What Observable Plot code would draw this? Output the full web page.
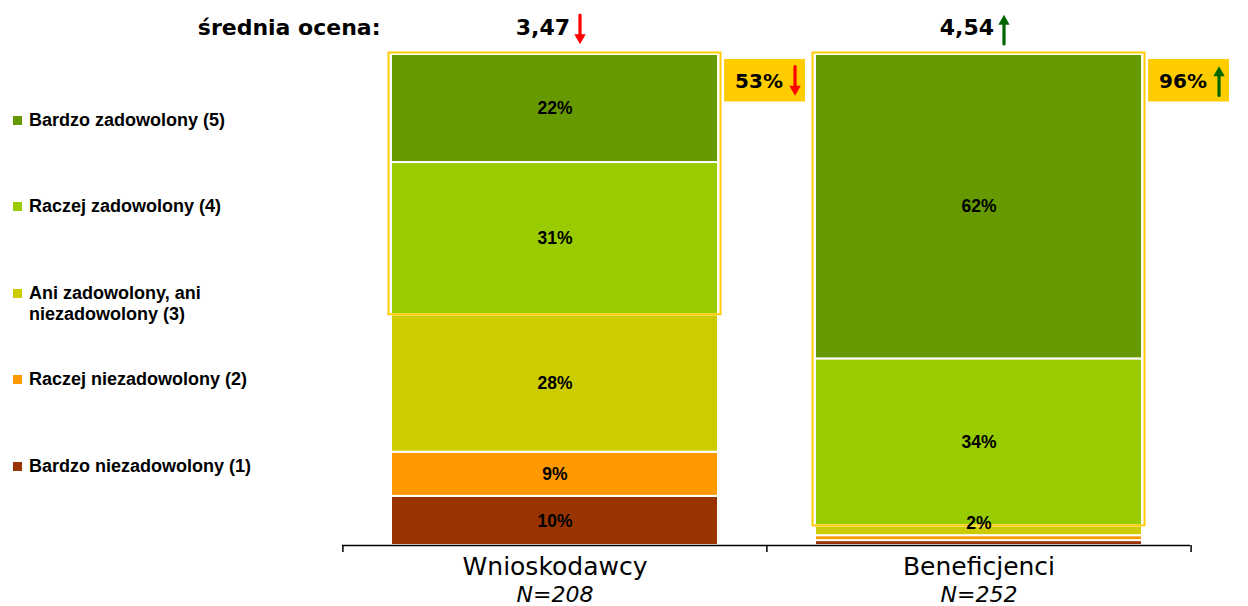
<!DOCTYPE html>
<html>
<head>
<meta charset="utf-8">
<script src="https://cdn.jsdelivr.net/npm/d3@7"></script>
<script src="https://cdn.jsdelivr.net/npm/@observablehq/plot@0.6"></script>
<style>
  body { margin: 0; background: #fff; }
  #wrap { position: relative; width: 1248px; height: 606px; overflow: hidden; background: #fff; }
  #chart { position: absolute; left: 0; top: 0; }
  .lg-item { position: absolute; left: 29px; font: bold 18px "Liberation Sans", Arial, sans-serif; line-height: 21px; color: #000; white-space: pre-line; }
  .lg-sw { position: absolute; left: 13px; width: 9px; height: 9px; }
</style>
</head>
<body>
<div id="wrap"><div id="chart"></div><div id="legend"></div></div>
<script>
// ---- data ----
const groups = ["Wnioskodawcy", "Beneficjenci"];
const sampleSizes = ["N=208", "N=252"];
const levels = [
  "Bardzo niezadowolony (1)",
  "Raczej niezadowolony (2)",
  "Ani zadowolony, ani\nniezadowolony (3)",
  "Raczej zadowolony (4)",
  "Bardzo zadowolony (5)"
];
const levelColors = ["#993300", "#FF9900", "#CCCC00", "#99CC00", "#669900"];
const wnioskodawcy = [10, 9, 28, 31, 22];
const beneficjenci = [1, 1, 2, 34, 62];
const meanScores = ["3,47", "4,54"];
const meanTrend = ["down", "up"];
const top2Share = [53, 96];
const top2Trend = ["down", "up"];
const headerLabel = ["średnia ocena:"];

// ---- tables ----
const seriesByGroup = [wnioskodawcy, beneficjenci];
const rows = [];
groups.forEach((g, gi) => levels.forEach((l, li) => rows.push({group: g, level: l, value: seriesByGroup[gi][li]})));
const summary = groups.map((g, i) => ({
  group: g,
  n: sampleSizes[i],
  mean: meanScores[i],
  meanTrend: meanTrend[i],
  top2: top2Share[i],
  top2Trend: top2Trend[i],
  top2Base: d3.sum(seriesByGroup[i].slice(0, 3)),
  total: d3.sum(seriesByGroup[i])
}));

// ---- layout ----
const W = 1248, H = 606;
const mL = 342, mR = 58, mT = 54, mB = 61;
const pIn = 0.229, pOut = 0.114;
const plotW = W - mL - mR, plotH = H - mT - mB;
const step = plotW / (groups.length - pIn + 2 * pOut);
const bw = step * (1 - pIn);
const boxGap = 6, boxW = 81;
const boxCenter = bw / 2 + boxGap + boxW / 2;

const RED = "#FF0000", GREEN = "#006600";

function arrowMarks(data, field, dx, cy) {
  const half = 14.5, tip = 6.4;
  const down = data.filter(d => d[field] === "down");
  const up = data.filter(d => d[field] === "up");
  const common = {x: "group", frameAnchor: "top", dx};
  return [
    Plot.vector(down, {...common, dy: cy - half, length: 2 * half - 7, rotate: 180, anchor: "start", r: 0, stroke: RED, strokeWidth: 3.2}),
    Plot.dot(down, {...common, dy: cy + half - tip, symbol: "triangle", r: 4.2, rotate: 180, fill: RED, stroke: "none"}),
    Plot.vector(up, {...common, dy: cy + half, length: 2 * half - 7, rotate: 0, anchor: "start", r: 0, stroke: GREEN, strokeWidth: 3.2}),
    Plot.dot(up, {...common, dy: cy - half + tip, symbol: "triangle", r: 4.2, fill: GREEN, stroke: "none"})
  ];
}

const bold = {fontFamily: "DejaVu Sans", fontWeight: "bold", lineAnchor: "middle"};
const labelFont = {fontFamily: "Liberation Sans", fontWeight: "bold", fontSize: 17.5, fill: "black"};

const chart = Plot.plot({
  width: W, height: H,
  marginLeft: mL, marginRight: mR, marginTop: mT, marginBottom: mB,
  x: {type: "band", domain: groups, paddingInner: pIn, paddingOuter: pOut, axis: null},
  y: {domain: [0, 100], axis: null},
  color: {domain: levels, range: levelColors},
  style: {fontFamily: "DejaVu Sans", background: "white", color: "black"},
  marks: [
    Plot.barY(rows, {x: "group", y: "value", fill: "level", stroke: "white", strokeWidth: 2}),
    Plot.barY(summary, {x: "group", y1: "top2Base", y2: "total", fill: "none", stroke: "#FFCC00", strokeWidth: 2,
      insetLeft: -2.5, insetRight: -2.5, insetTop: -1.5}),
    Plot.text(rows, Plot.stackY({x: "group", y: "value", text: d => d.value >= 5 ? d.value + "%" : null, ...labelFont})),
    Plot.text(rows, Plot.stackY({x: "group", y: "value", text: d => d.value >= 2 && d.value < 5 ? d.value + "%" : null, dy: -7, ...labelFont})),
    Plot.ruleY([0], {stroke: "black", strokeWidth: 1.5}),
    Plot.ruleX(summary, {x: "group", dx: -step / 2, insetTop: plotH, insetBottom: -7, stroke: "black", strokeWidth: 1.5}),
    Plot.ruleX(summary.slice(-1), {x: "group", dx: step / 2, insetTop: plotH, insetBottom: -7, stroke: "black", strokeWidth: 1.5}),
    Plot.text(summary, {x: "group", text: "group", frameAnchor: "bottom", lineAnchor: "middle", dy: 21, fontFamily: "DejaVu Sans", fontSize: 25, fill: "black"}),
    Plot.text(summary, {x: "group", text: "n", frameAnchor: "bottom", lineAnchor: "middle", dy: 49, fontFamily: "DejaVu Sans", fontSize: 22, fontStyle: "italic", fill: "black"}),
    Plot.text(headerLabel, {text: d => d, frameAnchor: "top-left", textAnchor: "end", dx: 38, dy: -27, fontSize: 22, ...bold, fill: "black"}),
    Plot.text(summary, {x: "group", text: "mean", frameAnchor: "top", textAnchor: "end", dx: 15, dy: -27, fontSize: 22, ...bold, fill: "black"}),
    ...arrowMarks(summary, "meanTrend", 25, -25),
    Plot.barY(summary, {x: "group", y1: "total", y2: "total", fill: "#FFCC00", insetLeft: bw + boxGap, insetRight: -(boxGap + boxW), insetTop: 5, insetBottom: -47.5}),
    Plot.text(summary, {x: "group", text: d => d.top2 + "%", frameAnchor: "top", dx: boxCenter - 6, dy: 27, fontSize: 20, ...bold, fill: "black"}),
    ...arrowMarks(summary, "top2Trend", boxCenter + 30, 26.5)
  ]
});
document.getElementById("chart").appendChild(chart);

// ---- legend (top item = highest level) ----
const legend = document.getElementById("legend");
const firstLine = 120, spacing = 86.5;
levels.slice().reverse().forEach((lab, i) => {
  const color = levelColors[levels.length - 1 - i];
  const cy = firstLine + i * spacing;
  const sw = document.createElement("div");
  sw.className = "lg-sw";
  sw.style.top = (cy - 4.5) + "px";
  sw.style.background = color;
  legend.appendChild(sw);
  const t = document.createElement("div");
  t.className = "lg-item";
  t.style.top = (cy - 10.5) + "px";
  t.textContent = lab;
  legend.appendChild(t);
});
</script>
</body>
</html>
